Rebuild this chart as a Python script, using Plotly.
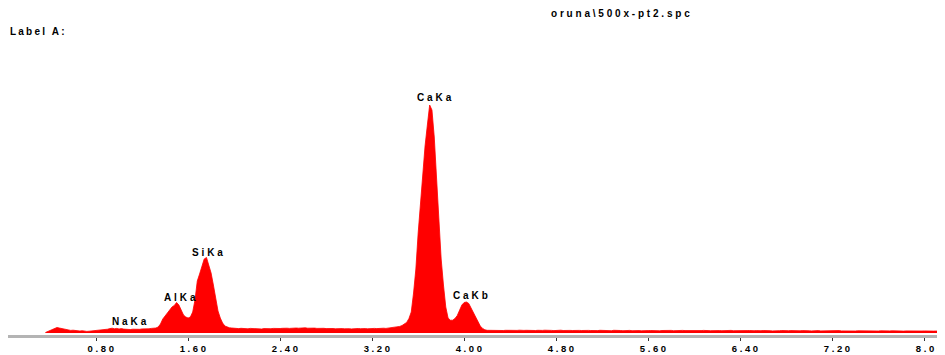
import numpy as np
import plotly.graph_objects as go

# ---- data (EDS spectrum, counts) ----
e_start = 0.36   # keV, first channel shown
e_step = 0.02    # keV per channel

counts_low = [5, 15, 25, 35, 45, 55, 50, 45, 38, 32,
              30, 26, 28, 24, 22, 20, 23, 18, 16, 18,
              20, 22, 24, 26, 29, 32, 34, 38, 44, 48,
              42, 46, 40, 44, 39, 36, 39, 35, 38, 36,
              40, 37, 41, 40, 44, 42, 46, 45, 50, 60,
              90, 140, 170, 200, 230, 260, 275, 305, 280, 220,
              180, 160, 150, 160, 210, 330, 520, 590, 660, 740,
              755, 680, 600, 480, 350, 220, 150, 100, 70, 60,
              52, 50, 46]
counts_mid = [46, 44, 47, 43, 45, 42, 46, 44, 41, 45,
              43, 40, 44, 42, 45, 43, 46, 44, 42, 45,
              47, 44, 48, 46, 49, 47, 50, 48, 51, 49,
              52, 48, 50, 47, 49, 46, 48, 45, 47, 44,
              46, 43, 45, 42, 44, 41, 44, 42, 45, 43,
              41, 44, 42, 45, 43, 46, 44, 42, 45, 43,
              46, 44, 47, 45, 48, 46, 49, 50, 52]
counts_ca = [55, 60, 66, 75, 90, 106, 145, 210, 400, 640,
             1000, 1310, 1610, 1870, 2080, 2280, 2230, 1960, 1550, 1120,
             740, 480, 260, 150, 128, 128, 145, 175, 220, 280,
             305, 310, 295, 250, 210, 160, 110, 70, 46, 32,
             27]
counts_high = [26, 25, 27, 24, 26, 28, 25, 27, 26, 24,
               27, 25, 26, 28, 24, 26, 27, 25, 28, 26,
               25, 27, 24, 26, 28, 25, 27, 26, 24, 27,
               26, 28, 25, 27, 24, 26, 25, 27, 23, 26,
               25, 27, 24, 26, 25, 23, 26, 24, 27, 25,
               24, 26, 25, 23, 27, 24, 26, 25, 23, 26,
               24, 26, 23, 25, 27, 24, 22, 25, 26, 24,
               25, 23, 26, 24, 22, 25, 27, 23, 24, 26,
               23, 25, 24, 22, 26, 24, 23, 25, 22, 24,
               25, 23, 24, 26, 22, 24, 23, 25, 24, 22,
               24, 23, 25, 22, 24, 26, 23, 22, 24, 25,
               23, 22, 24, 25, 22, 23, 24, 21, 23, 25,
               22, 24, 23, 21, 24, 22, 23, 25, 22, 21,
               23, 24, 22, 21, 23, 22, 24, 21, 23, 22,
               21, 23, 22, 24, 21, 22, 23, 20, 22, 23,
               21, 22, 24, 21, 20, 22, 23, 21, 22, 20,
               22, 21, 23, 20, 22, 21, 19, 22, 21, 20,
               22, 20, 21, 19, 21, 22, 20, 19, 21, 20,
               19, 21, 20, 22, 19, 20, 21, 19, 20, 21,
               19, 20, 21, 19, 20, 19]

counts = counts_low + counts_mid + counts_ca + counts_high
energy = np.round(e_start + e_step * np.arange(len(counts)), 3)

tick_vals = [0.8, 1.6, 2.4, 3.2, 4.0, 4.8, 5.6, 6.4, 7.2, 8.0]
tick_text = ["0.80", "1.60", "2.40", "3.20", "4.00", "4.80", "5.60", "6.40", "7.20", "8.00"]

peak_names = ["NaKa", "AlKa", "SiKa", "CaKa", "CaKb"]
peak_energy = [1.10, 1.54, 1.78, 3.75, 4.07]
peak_label_counts = [115, 360, 810, 2360, 380]

header_label = "Label A:"
file_label = "oruna\\500x-pt2.spc"

FONT = "Liberation Sans, Arial, sans-serif"


def spaced(txt, ls):
    return '<span style="letter-spacing:%spx">%s</span>' % (ls, txt)


fig = go.Figure()
fig.add_trace(go.Scatter(
    x=energy, y=counts, mode="lines",
    line=dict(color="#ff0000", width=0.8),
    fill="tozeroy", fillcolor="#ff0000",
    hoverinfo="skip", showlegend=False,
))

for name, ex, cy in zip(peak_names, peak_energy, peak_label_counts):
    fig.add_annotation(
        x=ex, y=cy, xref="x", yref="y", text="<b>" + spaced(name, 2.9) + "</b>",
        showarrow=False, xanchor="center", yanchor="middle",
        font=dict(family=FONT, size=10, color="#000000"),
    )

fig.add_annotation(
    x=0.0, y=1.0134, xref="paper", yref="paper",
    text="<b>" + spaced(header_label, 2.2) + "</b>", showarrow=False,
    xanchor="left", yanchor="middle",
    font=dict(family=FONT, size=10, color="#000000"),
)
fig.add_annotation(
    x=0.5816, y=1.0769, xref="paper", yref="paper",
    text="<b>" + spaced(file_label, 2.8) + "</b>", showarrow=False,
    xanchor="left", yanchor="middle",
    font=dict(family=FONT, size=10, color="#000000"),
)

# The page body adds an 8px offset, so the figure is 8px smaller in each direction.
fig.update_layout(
    width=937, height=347,
    margin=dict(l=0, r=0, t=28, b=20, pad=0),
    paper_bgcolor="#ffffff", plot_bgcolor="#ffffff",
    showlegend=False,
    xaxis=dict(
        range=[0.0345, 8.119], showgrid=False, zeroline=False,
        showline=True, linecolor="#b4b4b4", linewidth=2.5,
        ticks="outside", ticklen=3, tickwidth=1, tickcolor="#333333",
        tickvals=tick_vals,
        ticktext=["<b>" + spaced(t, 2.6) + "</b>" for t in tick_text],
        tickfont=dict(family=FONT, size=9.5, color="#000000"),
        ticklabelshift=6, ticklabelstandoff=0,
        ticklabeloverflow="allow",
        fixedrange=True,
    ),
    yaxis=dict(range=[-20, 2970], visible=False, fixedrange=True),
)

fig.write_html("out.html")
